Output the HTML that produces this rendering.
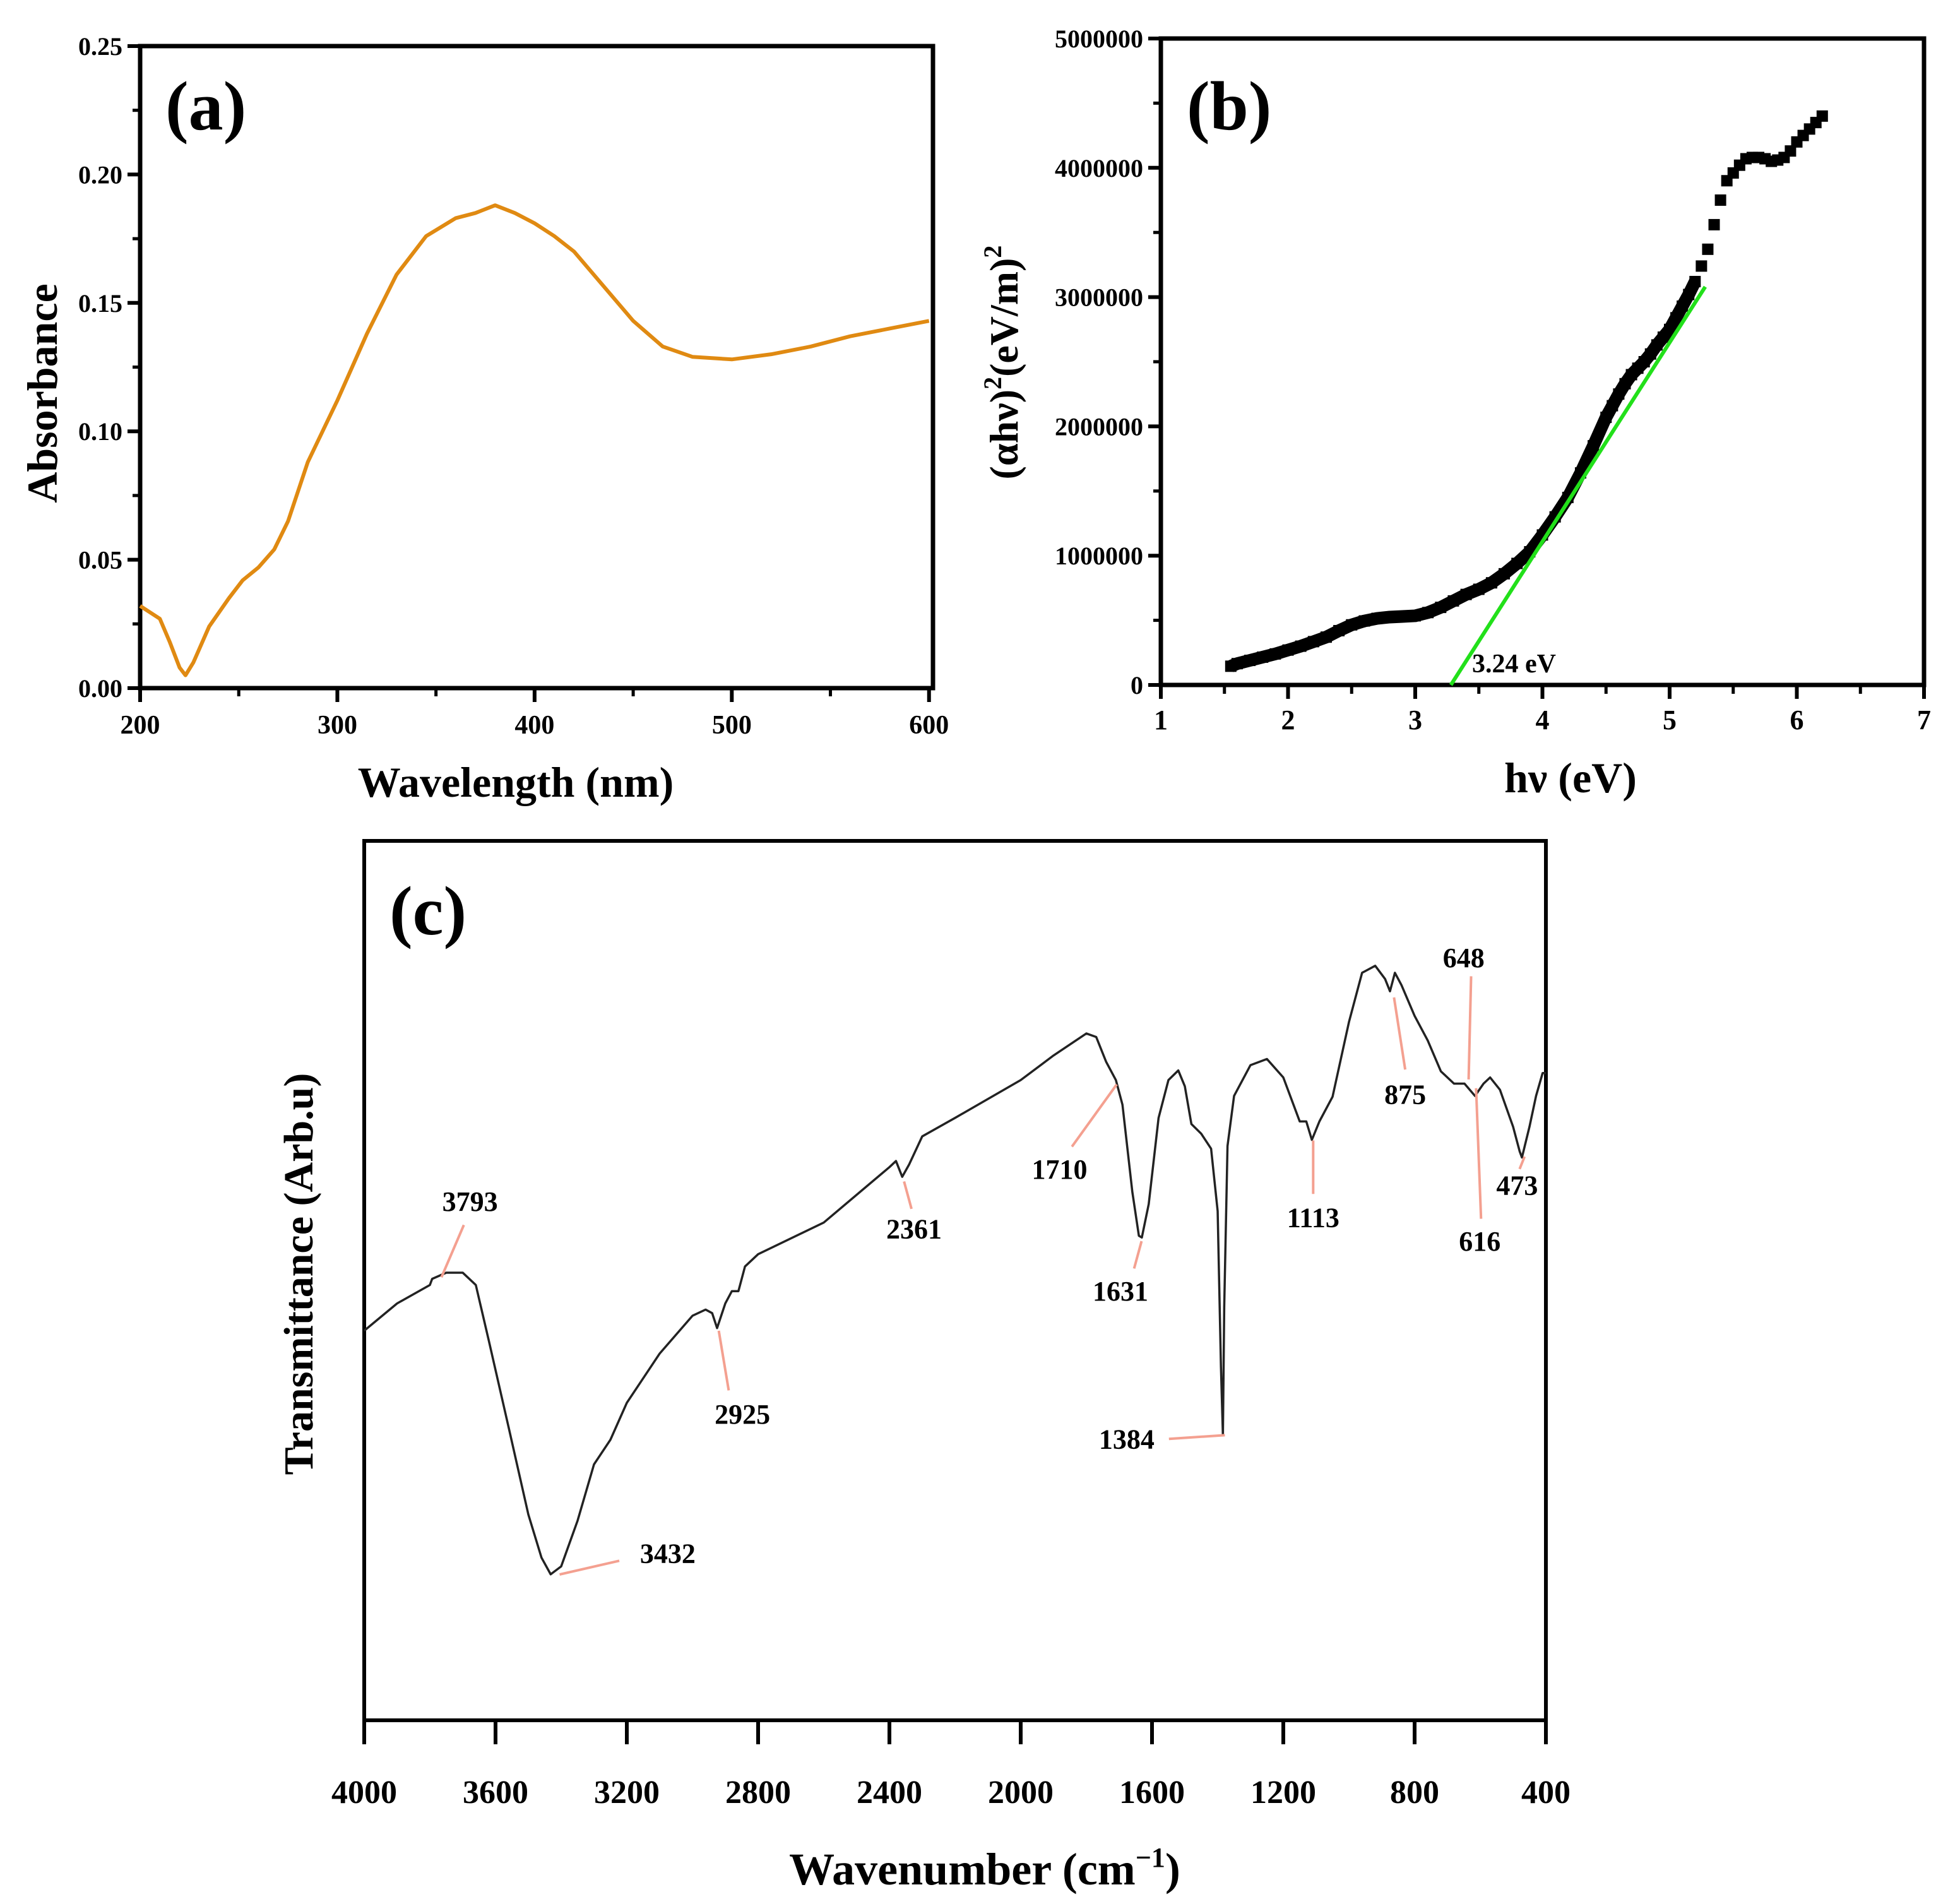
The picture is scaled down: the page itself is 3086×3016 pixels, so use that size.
<!DOCTYPE html>
<html><head><meta charset="utf-8">
<style>
html,body{margin:0;padding:0;background:#fff;}
svg text{font-family:"Liberation Serif",serif;font-weight:bold;fill:#000;}
</style></head>
<body>
<svg id="fig" width="3086" height="3011" viewBox="0 0 3086 3011" xmlns="http://www.w3.org/2000/svg">
<rect width="3086" height="3011" fill="#fff"/>
<g id="pa"></g>
<g id="pb"></g>
<g id="pc"></g>
</svg>
<script>
// Panel a data
const aWavelength=[200,210,215,220,223,227,235,245,252,260,268,275,285,300,315,330,345,360,370,380,390,400,410,420,430,450,465,480,500,520,540,560,580,600];
const aAbsorbance=[0.032,0.027,0.018,0.008,0.005,0.010,0.024,0.035,0.042,0.047,0.054,0.065,0.088,0.112,0.138,0.161,0.176,0.183,0.185,0.188,0.185,0.181,0.176,0.170,0.161,0.143,0.133,0.129,0.128,0.130,0.133,0.137,0.140,0.143];
const aXTicks=[200,300,400,500,600];
const aYTicks=[0.00,0.05,0.10,0.15,0.20,0.25];
// Panel b data
const bEnergy=[1.55,1.6,1.7,1.8,1.9,2.0,2.1,2.2,2.3,2.4,2.5,2.6,2.7,2.8,2.9,3.0,3.1,3.2,3.3,3.4,3.5,3.6,3.7,3.8,3.9,4.0,4.1,4.2,4.3,4.4,4.5,4.55,4.6,4.65,4.7,4.75,4.8,4.85,4.9,4.95,5.0,5.05,5.1,5.15,5.2,5.25,5.3,5.35,5.4,5.45,5.5,5.55,5.6,5.65,5.7,5.75,5.8,5.85,5.9,5.95,6.0,6.05,6.1,6.15,6.2];
const bValue=[145000,165000,190000,215000,240000,270000,300000,335000,370000,420000,465000,495000,515000,525000,530000,535000,560000,600000,650000,700000,740000,790000,860000,940000,1030000,1160000,1300000,1450000,1640000,1850000,2070000,2160000,2250000,2330000,2400000,2450000,2500000,2560000,2630000,2690000,2750000,2840000,2930000,3020000,3120000,3240000,3370000,3560000,3750000,3900000,3960000,4020000,4070000,4080000,4080000,4070000,4050000,4060000,4080000,4130000,4200000,4250000,4300000,4350000,4400000];
const bXTicks=[1,2,3,4,5,6,7];
const bYTicks=[0,1000000,2000000,3000000,4000000,5000000];
const bFitStart=[3.28,0];
const bFitEnd=[5.28,3080000];
// Panel c data
const cWavenumber=[4000,3900,3800,3793,3750,3700,3660,3620,3560,3500,3460,3432,3400,3350,3300,3250,3200,3100,3000,2960,2940,2925,2900,2880,2860,2840,2800,2600,2400,2380,2361,2340,2300,2200,2000,1900,1800,1770,1740,1710,1690,1660,1640,1631,1610,1580,1550,1520,1500,1480,1450,1420,1400,1390,1384,1380,1370,1350,1300,1250,1200,1150,1130,1113,1090,1050,1000,960,920,890,875,860,840,800,760,720,680,648,616,590,570,540,500,480,473,450,430,410,400];
const cTrans=[44.3,47.4,49.5,50.2,50.9,50.9,49.5,43.1,33.3,23.4,18.5,16.6,17.5,22.7,29.1,31.9,36.1,41.7,46.0,46.7,46.3,44.6,47.4,48.8,48.8,51.6,53.0,56.6,62.9,63.6,61.8,63.2,66.4,68.5,72.8,75.6,78.1,77.7,74.9,72.8,70.0,60.1,55.1,54.9,58.7,68.5,72.8,73.9,72.1,67.8,66.7,65.0,57.9,40.2,32.4,47.0,65.3,71.0,74.5,75.2,73.1,68.1,68.1,66.0,68.1,70.9,79.4,85.0,85.8,84.3,82.9,85.0,83.6,80.1,77.3,73.8,72.4,72.4,71.0,72.4,73.1,71.7,67.5,64.7,64.0,67.5,71.0,73.6,73.6];
const cXTicks=[4000,3600,3200,2800,2400,2000,1600,1200,800,400];
const cPeakLabels=["3793","3432","2925","2361","1710","1631","1384","1113","875","648","616","473"];

const NS="http://www.w3.org/2000/svg";
function mk(parent,tag,attrs){const e=document.createElementNS(NS,tag);for(const k in attrs)e.setAttribute(k,attrs[k]);parent.appendChild(e);return e;}

// ---------- Panel a ----------
const pa=document.getElementById('pa');
const A={l:222,r:1478,t:73,b:1090,x0:200,x1:602,y0:0,y1:0.25};
const ax=v=>A.l+(v-A.x0)/(A.x1-A.x0)*(A.r-A.l);
const ay=v=>A.b-(v-A.y0)/(A.y1-A.y0)*(A.b-A.t);
let f=mk(pa,'rect',{x:A.l,y:A.t,width:A.r-A.l,height:A.b-A.t,fill:'none',stroke:'#000','stroke-width':7});

aXTicks.forEach((v,i)=>{
 let t=mk(pa,'line',{x1:ax(v),x2:ax(v),y1:A.b,y2:A.b+22,stroke:'#000','stroke-width':6});
 
 if(i<aXTicks.length-1){let m=mk(pa,'line',{x1:ax(v+50),x2:ax(v+50),y1:A.b,y2:A.b+13,stroke:'#000','stroke-width':5});
 }
 let tx=mk(pa,'text',{x:ax(v),y:A.b+72,'font-size':42,'text-anchor':'middle'});tx.textContent=String(v);
 
});
aYTicks.forEach((v,i)=>{
 let t=mk(pa,'line',{x1:A.l-20,x2:A.l,y1:ay(v),y2:ay(v),stroke:'#000','stroke-width':6});
 
 if(i<aYTicks.length-1){let m=mk(pa,'line',{x1:A.l-12,x2:A.l,y1:ay(v+0.025),y2:ay(v+0.025),stroke:'#000','stroke-width':5});
 }
 let tx=mk(pa,'text',{x:A.l-28,y:ay(v)+14,'font-size':40,'text-anchor':'end'});tx.textContent=v.toFixed(2);
 
});
let pts=aWavelength.map((w,i)=>ax(w)+','+ay(aAbsorbance[i])).join(' ');
let ln=mk(pa,'polyline',{points:pts,fill:'none',stroke:'#e08a12','stroke-width':6,'stroke-linejoin':'round'});

let t1=mk(pa,'text',{x:262,y:205,'font-size':110});t1.textContent='(a)';

let t2=mk(pa,'text',{x:817,y:1262,'font-size':68,'text-anchor':'middle'});t2.textContent='Wavelength (nm)';

let t3=mk(pa,'text',{x:90,y:623,'font-size':68,'text-anchor':'middle',transform:'rotate(-90 90 623)'});t3.textContent='Absorbance';


// ---------- Panel b ----------
const pb=document.getElementById('pb');
const B={l:1839,r:3048,t:61,b:1085,x0:1,x1:7,y0:0,y1:5000000};
const bx=v=>B.l+(v-B.x0)/(B.x1-B.x0)*(B.r-B.l);
const by=v=>B.b-(v-B.y0)/(B.y1-B.y0)*(B.b-B.t);
f=mk(pb,'rect',{x:B.l,y:B.t,width:B.r-B.l,height:B.b-B.t,fill:'none',stroke:'#000','stroke-width':7});

bXTicks.forEach((v,i)=>{
 let t=mk(pb,'line',{x1:bx(v),x2:bx(v),y1:B.b,y2:B.b+22,stroke:'#000','stroke-width':6});
 
 if(i<bXTicks.length-1){let m=mk(pb,'line',{x1:bx(v+0.5),x2:bx(v+0.5),y1:B.b,y2:B.b+14,stroke:'#000','stroke-width':5});
 }
 let tx=mk(pb,'text',{x:bx(v),y:B.b+70,'font-size':44,'text-anchor':'middle'});tx.textContent=String(v);
 
});
bYTicks.forEach((v,i)=>{
 let t=mk(pb,'line',{x1:B.l-20,x2:B.l,y1:by(v),y2:by(v),stroke:'#000','stroke-width':6});
 
 if(i<bYTicks.length-1){let m=mk(pb,'line',{x1:B.l-12,x2:B.l,y1:by(v+500000),y2:by(v+500000),stroke:'#000','stroke-width':5});
 }
 let tx=mk(pb,'text',{x:B.l-28,y:by(v)+14,'font-size':40,'text-anchor':'end'});tx.textContent=String(v);
 
});
const densePts=bEnergy.map((e,i)=>[e,bValue[i]]).filter(p=>p[0]<=5.2).map(p=>bx(p[0])+','+by(p[1])).join(' ');
let band=mk(pb,'polyline',{points:densePts,fill:'none',stroke:'#000','stroke-width':20,'stroke-linejoin':'round'});

bEnergy.forEach((e,i)=>{
 let s=mk(pb,'rect',{x:bx(e)-9,y:by(bValue[i])-9,width:18,height:18,fill:'#000'});
 
});
let fit=mk(pb,'line',{x1:bx(bFitStart[0]),y1:by(bFitStart[1]),x2:bx(bFitEnd[0]),y2:by(bFitEnd[1]),stroke:'#22e01a','stroke-width':6});

let bt=mk(pb,'text',{x:2332,y:1065,'font-size':42});bt.textContent='3.24 eV';

let b1=mk(pb,'text',{x:1880,y:205,'font-size':110});b1.textContent='(b)';

let b2=mk(pb,'text',{x:2488,y:1255,'font-size':68,'text-anchor':'middle'});b2.textContent='hν (eV)';

let b3=mk(pb,'text',{x:1612,y:574,'font-size':64,'text-anchor':'middle',transform:'rotate(-90 1612 574)'});
b3.innerHTML='(αhν)<tspan font-size="40" dy="-26">2</tspan><tspan dy="26">(eV/m)</tspan><tspan font-size="40" dy="-26">2</tspan>';


// ---------- Panel c ----------
const pc=document.getElementById('pc');
const C={l:577,r:2449,t:1332,b:2725,x0:4000,x1:400,y0:0,y1:100};
const cx=v=>C.l+(v-C.x0)/(C.x1-C.x0)*(C.r-C.l);
const cy=v=>C.b-(v-C.y0)/(C.y1-C.y0)*(C.b-C.t);
f=mk(pc,'rect',{x:C.l,y:C.t,width:C.r-C.l,height:C.b-C.t,fill:'none',stroke:'#000','stroke-width':6});

cXTicks.forEach(v=>{
 let t=mk(pc,'line',{x1:cx(v),x2:cx(v),y1:C.b,y2:C.b+38,stroke:'#000','stroke-width':6});
 
 let tx=mk(pc,'text',{x:cx(v),y:2856,'font-size':52,'text-anchor':'middle'});tx.textContent=String(v);
 
});
pts=cWavenumber.map((w,i)=>cx(w)+','+cy(cTrans[i])).join(' ');
ln=mk(pc,'polyline',{points:pts,fill:'none',stroke:'#222','stroke-width':3.5,'stroke-linejoin':'round'});

const S=1.97;
const ann=[[378,966,355,1027,373,985],[537,1249,450,1266,498,1255],[597,1137,578,1070,586,1118],[735,988,727,950,733,972],[852,940,898,872,862,922],[901,1038,918,998,912,1020],[906,1157,940,1157,985,1154],[1056,979,1056,917,1056,960],[1130,880,1121,802,1130,860],[1177,770,1183,785,1181,868],[1190,998,1187,875,1191,980],[1220,953,1226,930,1222,940]];
ann.forEach((a,i)=>{
 let l=mk(pc,'line',{x1:a[2]*S,y1:a[3]*S,x2:a[4]*S,y2:a[5]*S,stroke:'#f4a090','stroke-width':4});
 
 let tx=mk(pc,'text',{x:a[0]*S,y:a[1]*S+15,'font-size':44,'text-anchor':'middle'});tx.textContent=cPeakLabels[i];
 
});
let c1=mk(pc,'text',{x:617,y:1480,'font-size':110});c1.textContent='(c)';

let c2=mk(pc,'text',{x:1560,y:2985,'font-size':72,'text-anchor':'middle'});
c2.innerHTML='Wavenumber (cm<tspan font-size="44" dy="-28">−1</tspan><tspan dy="28">)</tspan>';

let c3=mk(pc,'text',{x:495,y:2018,'font-size':66,'text-anchor':'middle',transform:'rotate(-90 495 2018)'});c3.textContent='Transmittance (Arb.u)';

</script>
</body></html>
